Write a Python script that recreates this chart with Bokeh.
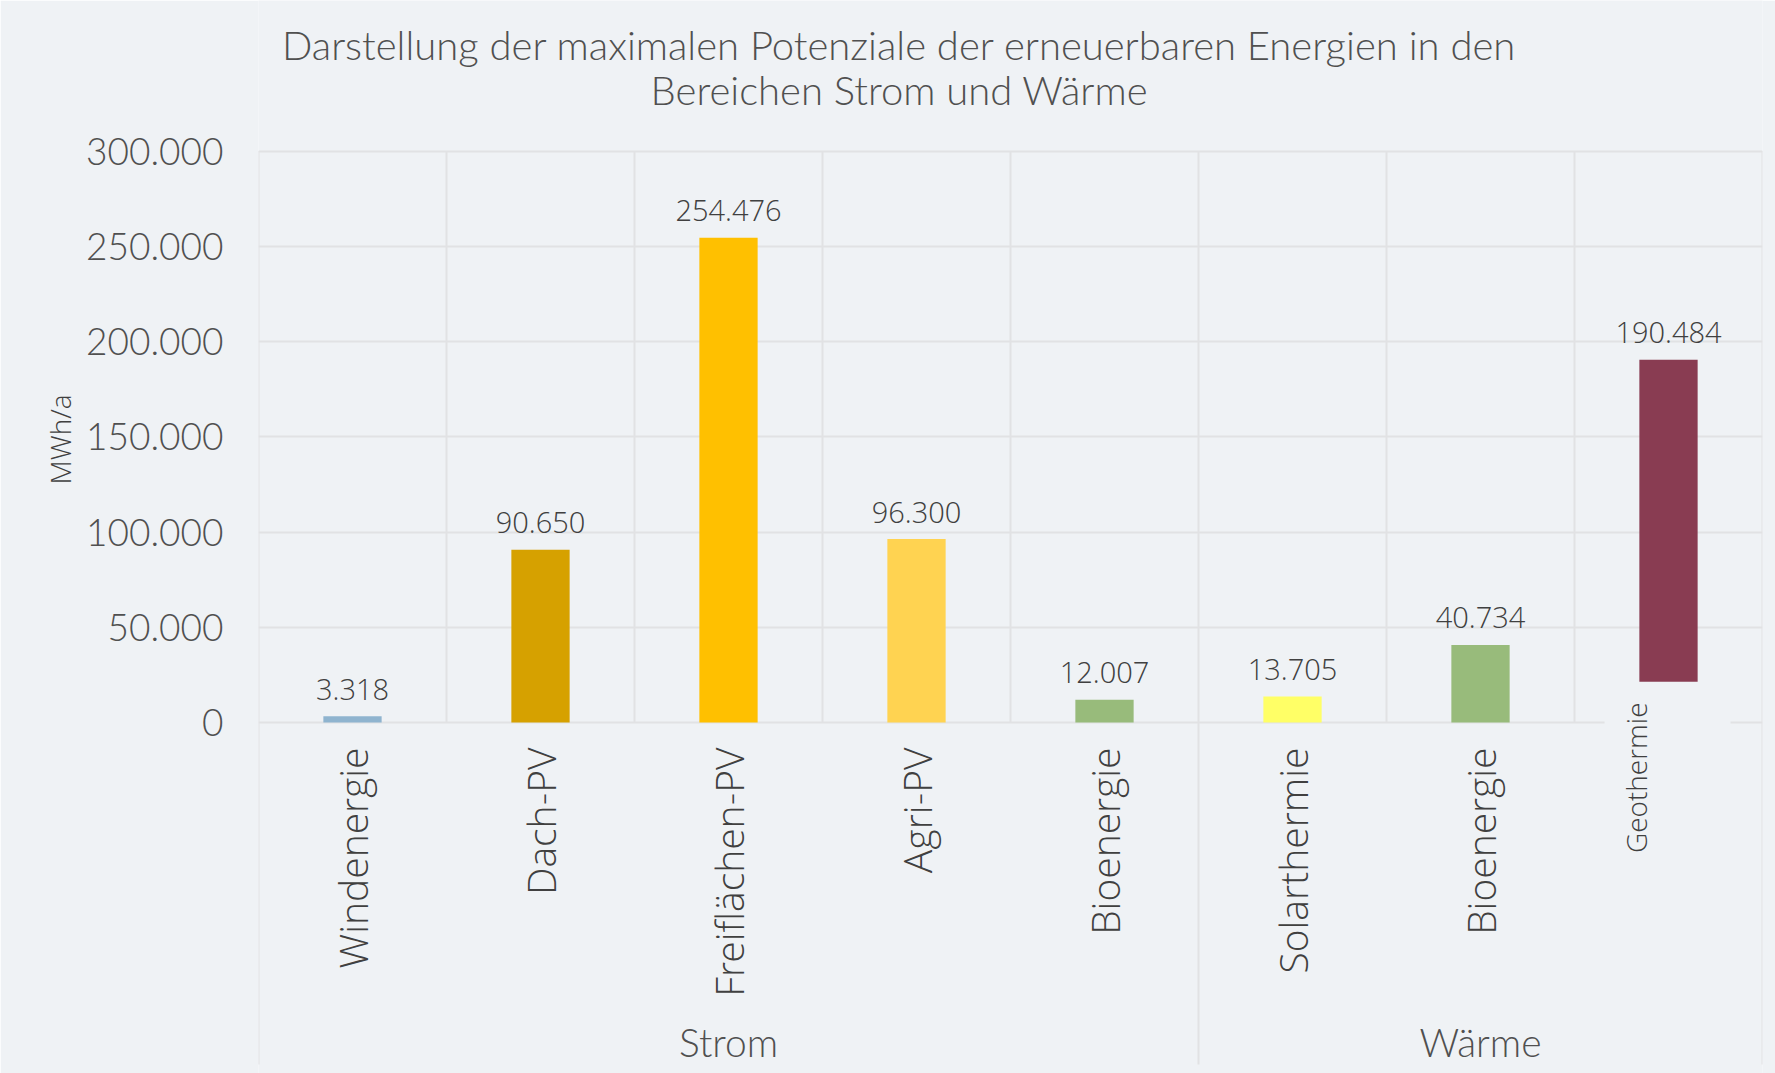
import math
from bokeh.plotting import figure
from bokeh.models import Range1d, FixedTicker, CustomJSTickFormatter, Title
from bokeh.core.properties import value
from bokeh.embed import file_html
from bokeh.resources import INLINE

# ---------------- data ----------------
groups = ["Strom", "Strom", "Strom", "Strom", "Strom", "Wärme", "Wärme", "Wärme"]
categories = ["Windenergie", "Dach-PV", "Freiflächen-PV", "Agri-PV", "Bioenergie",
              "Solarthermie", "Bioenergie", "Geothermie"]
values_mwh = [3318, 90650, 254476, 96300, 12007, 13705, 40734, 190484]
bar_colors = ["#8FB4CF", "#D6A100", "#FFC000", "#FFD351", "#98BB7B",
              "#FFFF66", "#98BB7B", "#893C52"]
y_ticks = [0, 50000, 100000, 150000, 200000, 250000, 300000]
title_lines = ["Darstellung der maximalen Potenziale der erneuerbaren Energien in den",
               "Bereichen Strom und Wärme"]
y_label = "MWh/a"

# ---------------- layout / style ----------------
W, H = 1775, 1073
ML, MR = 258, 13
ZERO_PY = 722.0      # pixel row of value 0 (from figure top)
TOP_PY = 150.6       # pixel row of top tick
SEP_BOTTOM_PY = 1064.0
YLABEL_BOTTOM_PY = 484.0
BG = "#EFF2F5"
GRID = "#E1E2E4"
TXT = "#505050"
TXT2 = "#404040"
LIGHT_FONT = "Lato Light"
LABEL_FONT = "Open Sans Light"
SMALL_FONT = "Open Sans Light"
GEO_MASK_TOP = 21400  # label box of the last category hides the lower part of its bar

top_val = y_ticks[-1]
k = (ZERO_PY - TOP_PY) / top_val
y_start = -(H - ZERO_PY) / k
y_end = top_val + TOP_PY / k
sep_bottom = -(SEP_BOTTOM_PY - ZERO_PY) / k
n = len(categories)

p = figure(width=W, height=H, x_range=Range1d(0, n), y_range=Range1d(y_start, y_end),
           output_backend="svg", toolbar_location=None, x_axis_location=None,
           min_border_left=ML, min_border_right=MR, min_border_top=0, min_border_bottom=0,
           background_fill_color=BG, border_fill_color=BG, outline_line_color=None)

# y axis
ax = p.yaxis[0]
ax.ticker = FixedTicker(ticks=y_ticks)
ax.formatter = CustomJSTickFormatter(
    code="return tick.toFixed(0).replace(/\\B(?=(\\d{3})+(?!\\d))/g, '.');")
ax.axis_line_color = None
ax.major_tick_line_color = None
ax.minor_tick_line_color = None
ax.major_tick_out = 0
ax.major_tick_in = 0
ax.major_label_standoff = 35
ax.major_label_text_font = LIGHT_FONT
ax.major_label_text_font_size = "37px"
ax.major_label_text_color = TXT

p.ygrid.grid_line_color = GRID
p.ygrid.grid_line_width = 2
p.xgrid.visible = False

# y axis title (left panel)
ytitle = Title(text=y_label, align="left", offset=H - YLABEL_BOTTOM_PY)
ytitle.text_font = SMALL_FONT
ytitle.text_font_size = "28px"
ytitle.text_font_style = "normal"
ytitle.text_color = TXT2
p.add_layout(ytitle, "left")

# vertical grid + group separators
bounds = list(range(n + 1))
group_bounds = [0] + [i for i in range(1, n) if groups[i] != groups[i - 1]] + [n]
p.segment(x0=bounds, x1=bounds,
          y0=[sep_bottom if b in group_bounds else 0 for b in bounds],
          y1=[top_val] * len(bounds), line_color=GRID, line_width=2)

# bars
xc = [i + 0.5 for i in range(n)]
p.vbar(x=xc, top=values_mwh, bottom=0, width=0.31, color=bar_colors, line_color=None)

# mask of the last category's label box
p.quad(left=[n - 1 + 0.16], right=[n - 1 + 0.83], bottom=[-9000], top=[GEO_MASK_TOP],
       fill_color=BG, line_color=None)

# value labels
labels = [f"{v:,}".replace(",", ".") for v in values_mwh]
p.text(x=xc, y=values_mwh, text=labels, y_offset=-27, text_align="center",
       text_baseline="alphabetic", text_font=value(LABEL_FONT), text_font_size="29px",
       text_color=TXT2)

# category labels
p.text(x=xc[:-1], y=[0] * (n - 1), text=categories[:-1], angle=math.pi / 2, y_offset=25,
       text_align="right", text_baseline="middle", text_font=value(LABEL_FONT),
       text_font_size="39px", text_color=TXT2)
p.text(x=xc[-1:], y=[0], text=categories[-1:], angle=math.pi / 2, y_offset=-20, x_offset=-33,
       text_align="right", text_baseline="middle", text_font=value(SMALL_FONT),
       text_font_size="28px", text_color=TXT2)

# group labels
gnames, gcenters = [], []
for a, b in zip(group_bounds[:-1], group_bounds[1:]):
    gnames.append(groups[a])
    gcenters.append((a + b) / 2)
p.text(x=gcenters, y=[y_start] * len(gcenters), text=gnames, y_offset=-32,
       text_align="center", text_baseline="middle", text_font=value(LIGHT_FONT),
       text_font_size="39px", text_color=TXT)

# title
p.text(x=[0, 0], y=[y_end, y_end], text=title_lines, x_offset=[641, 641], y_offset=[44, 89],
       text_align="center", text_baseline="middle", text_font=value(LIGHT_FONT),
       text_font_size="40px", text_color=TXT)

open("out.html", "w").write(file_html(p, INLINE))
